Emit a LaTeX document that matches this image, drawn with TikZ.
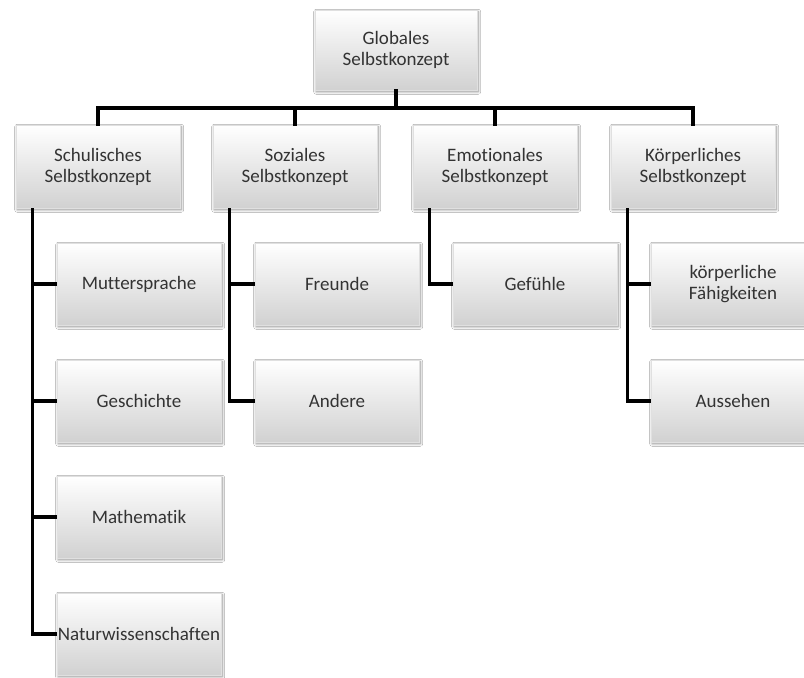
\documentclass[tikz,border=0pt]{standalone}
\usepackage{fontspec}
\setmainfont{Carlito}[Ligatures={NoCommon}]
\usetikzlibrary{shadows.blur}
\definecolor{txt}{HTML}{333333}
\begin{document}
\begin{tikzpicture}[x=1pt,y=-1pt,
  box/.style={rectangle, minimum width=164pt, minimum height=82pt, inner sep=0pt,
    top color=white, bottom color=black!18, draw=black!12, line width=0.4pt,
    blur shadow={shadow xshift=1.2pt, shadow yshift=-1.8pt, shadow blur steps=6, shadow opacity=45, shadow blur radius=2.5pt},
    align=center, text=txt, font=\fontsize{19}{21}\selectfont},
  conn/.style={line width=3.3pt, black, line cap=rect}]
\clip (0,0) rectangle (804,678);
\fill[white] (0,0) rectangle (804,678);
% top
\node[box, minimum width=162pt, minimum height=80pt] (g) at (396,50) {Globales\\Selbstkonzept};
% level 1
\node[box, minimum height=83pt] (s) at (98,166.5) {Schulisches\\Selbstkonzept};
\node[box, minimum height=83pt] (so) at (295,166.5) {Soziales\\Selbstkonzept};
\node[box, minimum height=83pt] (e) at (495,166.5) {Emotionales\\Selbstkonzept};
\node[box, minimum height=83pt] (k) at (693,166.5) {Körperliches\\Selbstkonzept};
% children
\node[box] (m1) at (139,284) {Muttersprache};
\node[box] (m2) at (139,401) {Geschichte};
\node[box] (m3) at (139,517) {Mathematik};
\node[box] (m4) at (139,634) {Naturwissenschaften};
\node[box] (f1) at (337,284) {Freunde};
\node[box] (f2) at (337,401) {Andere};
\node[box] (e1) at (535,284) {Gefühle};
\node[box] (k1) at (733,284) {körperliche\\Fähigkeiten};
\node[box] (k2) at (733,401) {Aussehen};
% connectors
\coordinate (bar) at (0,108);
\draw[conn] (g.south) -- (g.south |- bar) -| (s.north);
\draw[conn] (g.south |- bar) -| (so.north);
\draw[conn] (g.south |- bar) -| (e.north);
\draw[conn] (g.south |- bar) -| (k.north);
\foreach \p/\c in {s/m1,s/m2,s/m3,s/m4,so/f1,so/f2,e/e1,k/k1,k/k2}
  \draw[line width=3.3pt, line join=miter] ([xshift=17pt]\p.south west) |- (\c.west);
\end{tikzpicture}
\end{document}
